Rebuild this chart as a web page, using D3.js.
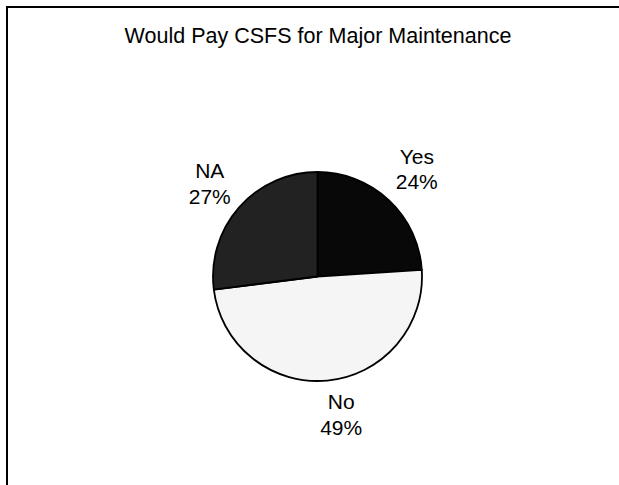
<!DOCTYPE html>
<html>
<head>
<meta charset="utf-8">
<script src="https://cdn.jsdelivr.net/npm/d3@7"></script>
<style>
  html, body { margin: 0; padding: 0; background: #ffffff; }
  svg { display: block; }
  text { font-family: "Liberation Sans", Arial, sans-serif; fill: #000; }
</style>
</head>
<body>
<svg id="chart" width="619" height="485"></svg>
<script>
// Survey answers, in drawing order (clockwise from 12 o'clock)
const categories = ["Yes", "No", "NA"];
const percents = [24, 49, 27];
const sliceColors = ["#080808", "#f5f5f5", "#222222"];
const title = "Would Pay CSFS for Major Maintenance";

const width = 619, height = 485;
const cx = 317.5, cy = 276.5, radius = 104.5;
const labelRadius = 145;
// small per-label nudges so the two-line labels sit clear of the rim
const labelNudge = { Yes: [0, 0], No: [10, -5], NA: [1, 4.5] };

const svg = d3.select("#chart");

// chart frame (right and bottom edges fall outside the window)
svg.append("rect")
  .attr("x", 7).attr("y", 7)
  .attr("width", 614).attr("height", 500)
  .attr("fill", "none")
  .attr("stroke", "#000")
  .attr("stroke-width", 2);

svg.append("text")
  .attr("x", 318).attr("y", 42.5)
  .attr("text-anchor", "middle")
  .style("font-size", "21.5px")
  .text(title);

const data = categories.map((c, i) => ({ cat: c, value: percents[i], color: sliceColors[i] }));

const pie = d3.pie().value(d => d.value).sort(null);
const arc = d3.arc().innerRadius(0).outerRadius(radius);
const labelArc = d3.arc().innerRadius(labelRadius).outerRadius(labelRadius);

const g = svg.append("g").attr("transform", `translate(${cx},${cy})`);
const arcs = pie(data);

g.selectAll("path.slice")
  .data(arcs)
  .join("path")
  .attr("class", "slice")
  .attr("d", arc)
  .attr("fill", d => d.data.color)
  .attr("stroke", "#000")
  .attr("stroke-width", 1.8)
  .attr("stroke-linejoin", "round");

const labels = g.selectAll("text.lbl")
  .data(arcs)
  .join("text")
  .attr("class", "lbl")
  .attr("text-anchor", "middle")
  .style("font-size", "21px")
  .attr("transform", d => {
    const [x, y] = labelArc.centroid(d);
    const [nx, ny] = labelNudge[d.data.cat];
    return `translate(${x + nx},${y - 7 + ny})`;
  });

labels.append("tspan").attr("x", 0).attr("y", 0).text(d => d.data.cat);
labels.append("tspan").attr("x", 0).attr("y", 25.7).text(d => d.data.value + "%");
</script>
</body>
</html>
